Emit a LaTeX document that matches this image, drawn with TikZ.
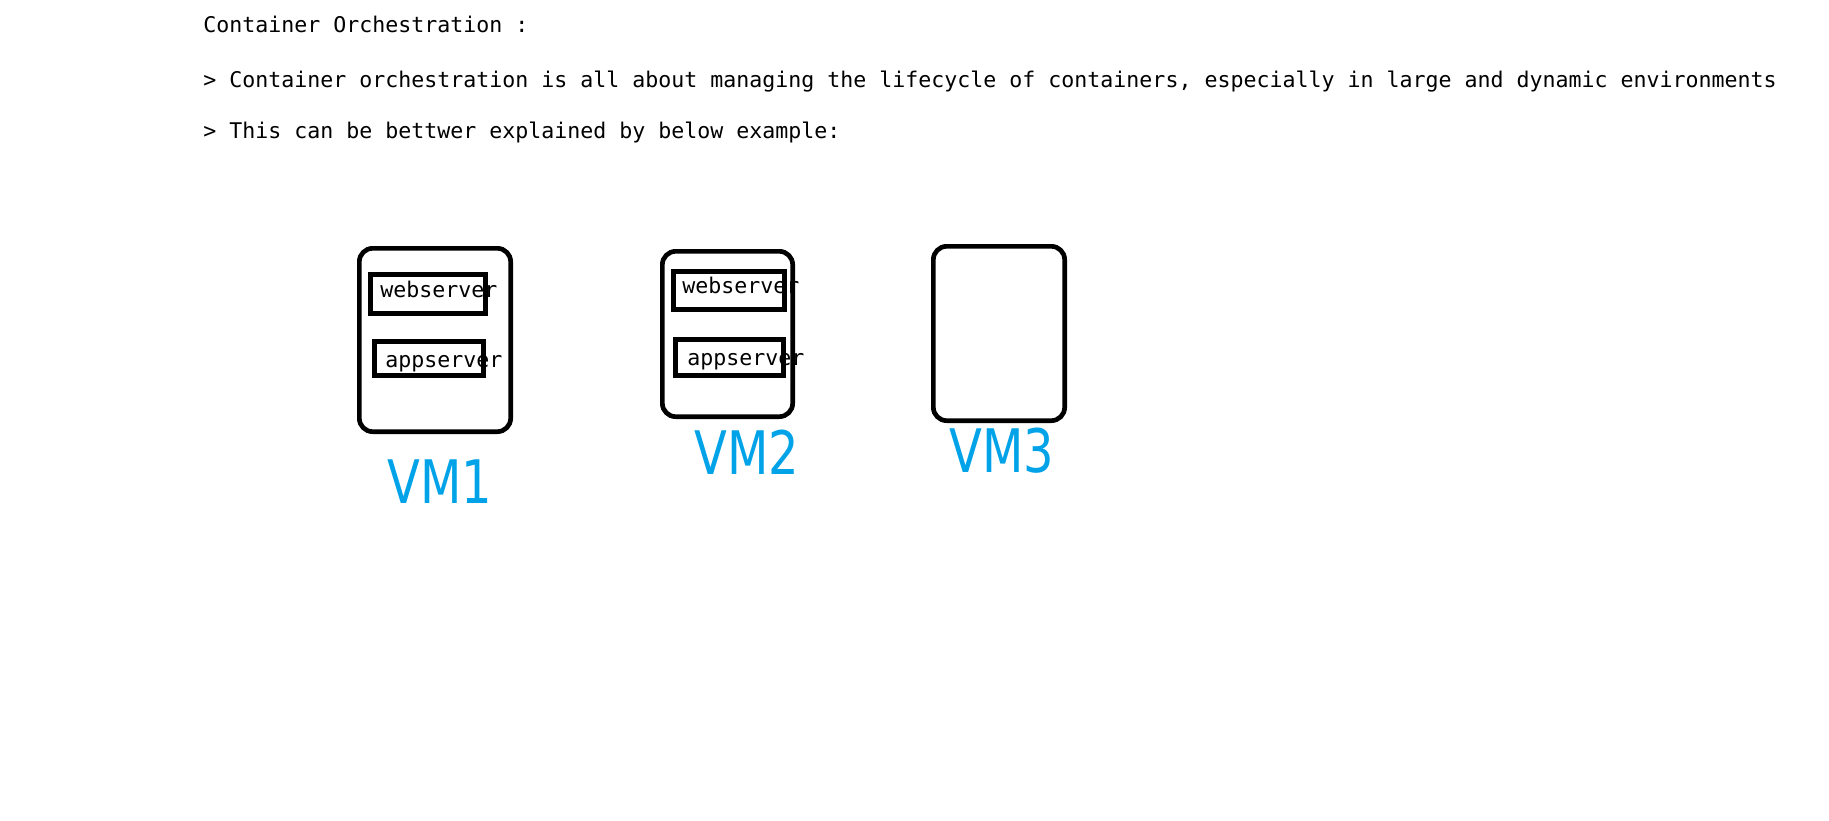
\documentclass[tikz,border=0pt]{standalone}
\usepackage{fontspec}
\usepackage{xcolor}
\usetikzlibrary{positioning}
\newfontfamily\notefont{DejaVu Sans Mono}
\newfontfamily\handfont{DejaVu Sans}[FakeStretch=0.8]
\definecolor{paintblue}{HTML}{00A2E8}

\begin{document}
\begin{tikzpicture}[
  x=0.75pt, y=-0.75pt,
  note/.style={font=\notefont\fontsize{16.2pt}{19pt}\selectfont, inner sep=0pt, anchor=base west},
  vm/.style={draw, line width=3.5pt, rounded corners=10pt},
  svc/.style={draw, line width=3.5pt},
  vmlab/.style={font=\handfont\fontsize{45pt}{50pt}\selectfont, text=paintblue, inner sep=0pt}
]
  \useasboundingbox (0,0) rectangle (1829,821);

  % notes at the top
  \node[note] (title) at (203,32) {Container Orchestration :};
  \node[note] (line1) at (203,87)
    {> Container orchestration is all about managing the lifecycle of containers, especially in large and dynamic environments};
  \node[note] (line2) at (203,138) {> This can be bettwer explained by below example:};

  % virtual machines
  \node[vm, minimum width=113.5pt, minimum height=137.5pt] (vm1) at (435,340) {};
  \node[vm, minimum width=97.75pt, minimum height=124pt] (vm2) at (727.5,334) {};
  \node[vm, minimum width=98.5pt, minimum height=130.75pt] (vm3) at (999,333.5) {};

  % containers in VM1
  \node[svc, minimum width=86.5pt, minimum height=29.5pt] (web1) at (428,294) {};
  \node[svc, minimum width=82pt, minimum height=25.75pt] (app1) at (429,358.5) {};
  \node[note] (web1txt) at (380,297) {webserver};
  \node[note] (app1txt) at (385,367) {appserver};

  % containers in VM2
  \node[svc, minimum width=83.5pt, minimum height=28.75pt] (web2) at (729,290.5) {};
  \node[svc, minimum width=81.25pt, minimum height=27.25pt] (app2) at (729.5,357.5) {};
  \node[note] (web2txt) at (682,293) {webserver};
  \node[note] (app2txt) at (687,365) {appserver};

  % labels
  \node[vmlab] (vm1lab) at (440,482) {VM1};
  \node[vmlab] (vm2lab) at (747,452) {VM2};
  \node[vmlab] (vm3lab) at (1002,451) {VM3};
\end{tikzpicture}
\end{document}
